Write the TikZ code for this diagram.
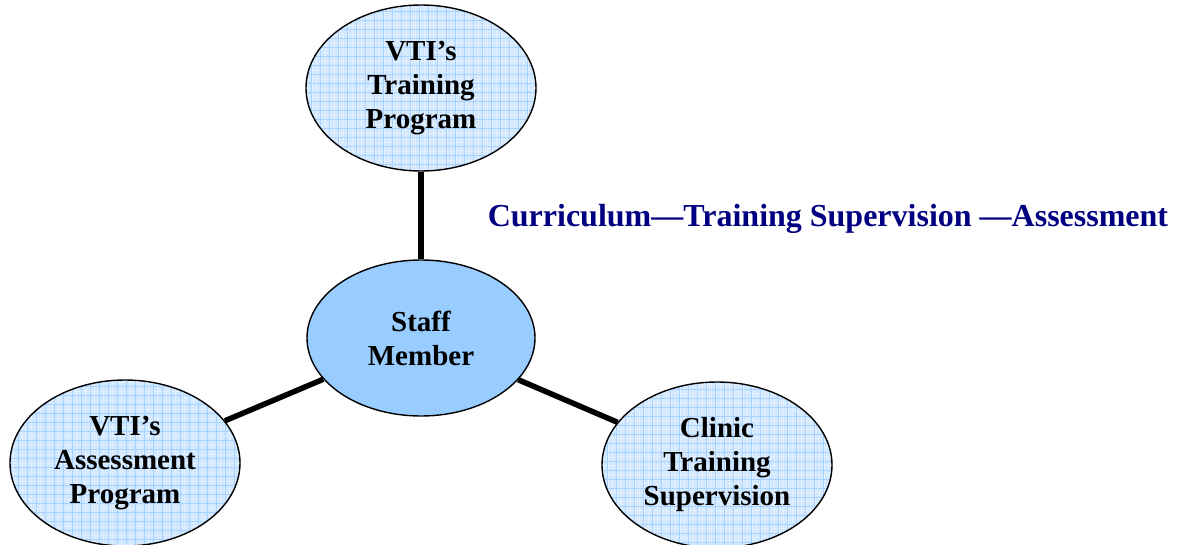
\documentclass[tikz,border=0pt]{standalone}
\usepackage{fontspec}
\setmainfont{Liberation Serif}
\usetikzlibrary{shapes.geometric}
\definecolor{navyText}{HTML}{000080}
\definecolor{staffBlue}{HTML}{99CCFF}
\definecolor{paleBlue}{HTML}{D2E8FF}
\definecolor{gridBlue}{HTML}{A8D2FF}
\tikzset{
  bubble/.style={ellipse, draw=black, line width=1.4pt, inner sep=0pt,
    minimum width=230pt, minimum height=166pt, align=center,
    font=\fontsize{29}{34}\selectfont\bfseries,
    fill=paleBlue,
    path picture={
      \draw[gridBlue!35, line width=0.3pt] (path picture bounding box.south west)
        grid[step=4.5pt] (path picture bounding box.north east);
      \draw[gridBlue, line width=0.6pt] (path picture bounding box.south west)
        grid[step=9pt] (path picture bounding box.north east);
    }},
  hub/.style={ellipse, draw=black, line width=1.4pt, inner sep=0pt,
    minimum width=228pt, minimum height=156pt, align=center,
    font=\fontsize{29}{34}\selectfont\bfseries, fill=staffBlue},
  spoke/.style={line width=5.5pt, black}
}
\begin{document}
\begin{tikzpicture}[x=1pt,y=1pt]
  \useasboundingbox (0,0) rectangle (1182,544);

  \node[hub] (staff) at (421,206) {Staff\\Member};
  \node[bubble] (training) at (421,456) {VTI’s\\Training\\Program};
  \node[bubble] (assess) at (125,81) {VTI’s\\Assessment\\Program};
  \node[bubble] (clinic) at (717,79) {Clinic\\Training\\Supervision};

  \draw[spoke] (staff) -- (training);
  \draw[spoke] (staff) -- (assess);
  \draw[spoke] (staff) -- (clinic);

  \node[text=navyText, font=\fontsize{32}{38}\selectfont\bfseries, inner sep=0pt]
    (path) at (828,325) {Curriculum—Training Supervision —Assessment};
\end{tikzpicture}
\end{document}
